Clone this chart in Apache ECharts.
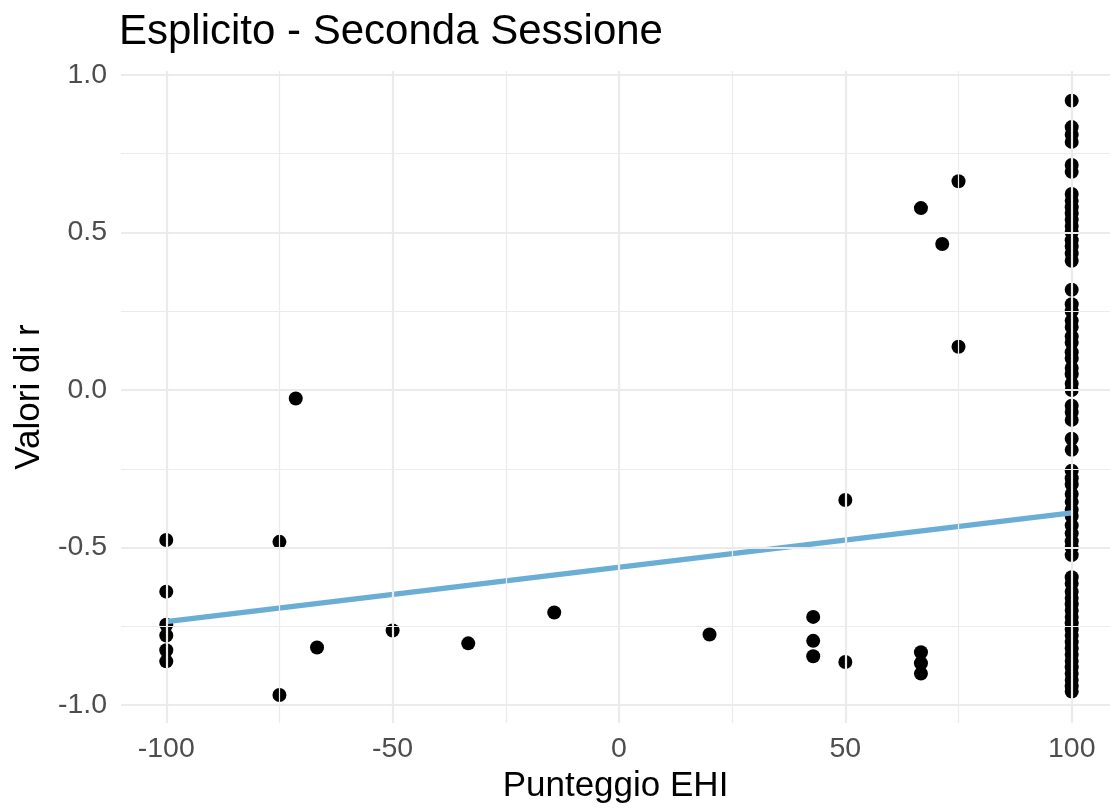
<!DOCTYPE html>
<html>
<head>
<meta charset="utf-8">
<script src="https://cdn.jsdelivr.net/npm/echarts@6/dist/echarts.min.js"></script>
<style>
html,body{margin:0;padding:0;background:#fff;overflow:hidden;}
#chart{width:1110px;height:809px;}
</style>
</head>
<body>
<div id="chart"></div>
<script>
// ---- data ----
const titleText = "Esplicito - Seconda Sessione";
const xName = "Punteggio EHI";
const yName = "Valori di r";
const xTicks = [-100, -50, 0, 50, 100];
const xMinor = [-75, -25, 25, 75];
const yTicks = [-1.0, -0.5, 0.0, 0.5, 1.0];
const yMinor = [-0.75, -0.25, 0.25, 0.75];

// EHI scores (x) and r values (y), one pair per participant
const ehiX = [
  -100, -100, -100, -100, -100, -100,
  -75, -75, -71.4, -66.7, -50, -33.3, -14.3, 20,
  42.9, 42.9, 42.9, 50, 50,
  66.7, 66.7, 66.7, 66.7, 71.4, 75, 75
];
const rY = [
  -0.476, -0.64, -0.745, -0.779, -0.826, -0.861,
  -0.482, -0.968, -0.027, -0.817, -0.763, -0.804, -0.706, -0.776,
  -0.72, -0.796, -0.845, -0.349, -0.863,
  0.577, -0.832, -0.867, -0.90, 0.463, 0.662, 0.137
];
// participants with EHI = 100
const r100 = [
  0.918, 0.834, 0.81, 0.787, 0.714, 0.692, 0.622, 0.60, 0.58, 0.56, 0.54, 0.52,
  0.50, 0.475, 0.455, 0.433, 0.41, 0.318, 0.272, 0.25, 0.22, 0.20, 0.17, 0.15,
  0.12, 0.10, 0.07, 0.05, 0.02, 0.0, -0.05, -0.07, -0.095, -0.155, -0.19,
  -0.256, -0.28, -0.30, -0.33, -0.355, -0.38, -0.40, -0.43, -0.455, -0.48,
  -0.50, -0.524, -0.594, -0.615, -0.64, -0.66, -0.68, -0.70, -0.72, -0.74,
  -0.76, -0.78, -0.80, -0.82, -0.84, -0.86, -0.88, -0.90, -0.92, -0.94, -0.957
];
// linear fit end points
const fitX = [-100, 100];
const fitY = [-0.735, -0.39];

// ---- build ----
const points = ehiX.map((x, i) => [x, rY[i]]).concat(r100.map(v => [100, v]));
const fitLine = fitX.map((x, i) => [x, fitY[i]]);

const FONT = '"Liberation Sans", Arial, Helvetica, sans-serif';
const gridColor = '#EBEBEB';
const gridLines = []
  .concat(yTicks.map(v => ({yAxis: v, lineStyle: {width: 2.2, color: gridColor, type: 'solid'}})))
  .concat(yMinor.map(v => ({yAxis: v, lineStyle: {width: 1.2, color: gridColor, type: 'solid'}})))
  .concat(xTicks.map(v => ({xAxis: v, lineStyle: {width: 2.2, color: gridColor, type: 'solid'}})))
  .concat(xMinor.map(v => ({xAxis: v, lineStyle: {width: 1.2, color: gridColor, type: 'solid'}})));

const chart = echarts.init(document.getElementById('chart'), null, {renderer: 'canvas'});
chart.setOption({
  animation: false,
  backgroundColor: '#ffffff',
  textStyle: {fontFamily: FONT},
  title: {
    text: titleText,
    left: 119, top: 11, padding: 0,
    textStyle: {fontFamily: FONT, fontSize: 42, fontWeight: 'normal', color: '#000000'}
  },
  grid: {left: 121, width: 989, top: 71, height: 662, containLabel: false},
  xAxis: {
    type: 'value', min: -110, max: 108.46,
    name: xName, nameLocation: 'middle', nameGap: 45,
    nameTextStyle: {fontFamily: FONT, fontSize: 35, color: '#000000'},
    axisLine: {show: false}, axisTick: {show: false}, splitLine: {show: false},
    axisLabel: {customValues: xTicks, margin: 12, fontFamily: FONT, fontSize: 28.5, color: '#4D4D4D'}
  },
  yAxis: {
    type: 'value', min: -1.057, max: 1.012,
    name: yName, nameLocation: 'middle', nameGap: 66, nameRotate: 90,
    nameTextStyle: {fontFamily: FONT, fontSize: 35, color: '#000000'},
    axisLine: {show: false}, axisTick: {show: false}, splitLine: {show: false},
    axisLabel: {customValues: yTicks, margin: 14, fontFamily: FONT, fontSize: 28.5, color: '#4D4D4D',
      formatter: v => v.toFixed(1)}
  },
  series: [
    {
      type: 'scatter', data: [], z: 1, silent: true,
      markLine: {silent: true, symbol: ['none', 'none'], label: {show: false}, animation: false, data: gridLines}
    },
    {
      type: 'scatter', data: points, z: 3, symbol: 'circle', symbolSize: 14,
      itemStyle: {color: '#000000', opacity: 1}
    },
    {
      type: 'line', data: fitLine, z: 4, symbol: 'none',
      lineStyle: {color: '#6AAED6', width: 5.5}
    }
  ]
});
</script>
</body>
</html>
